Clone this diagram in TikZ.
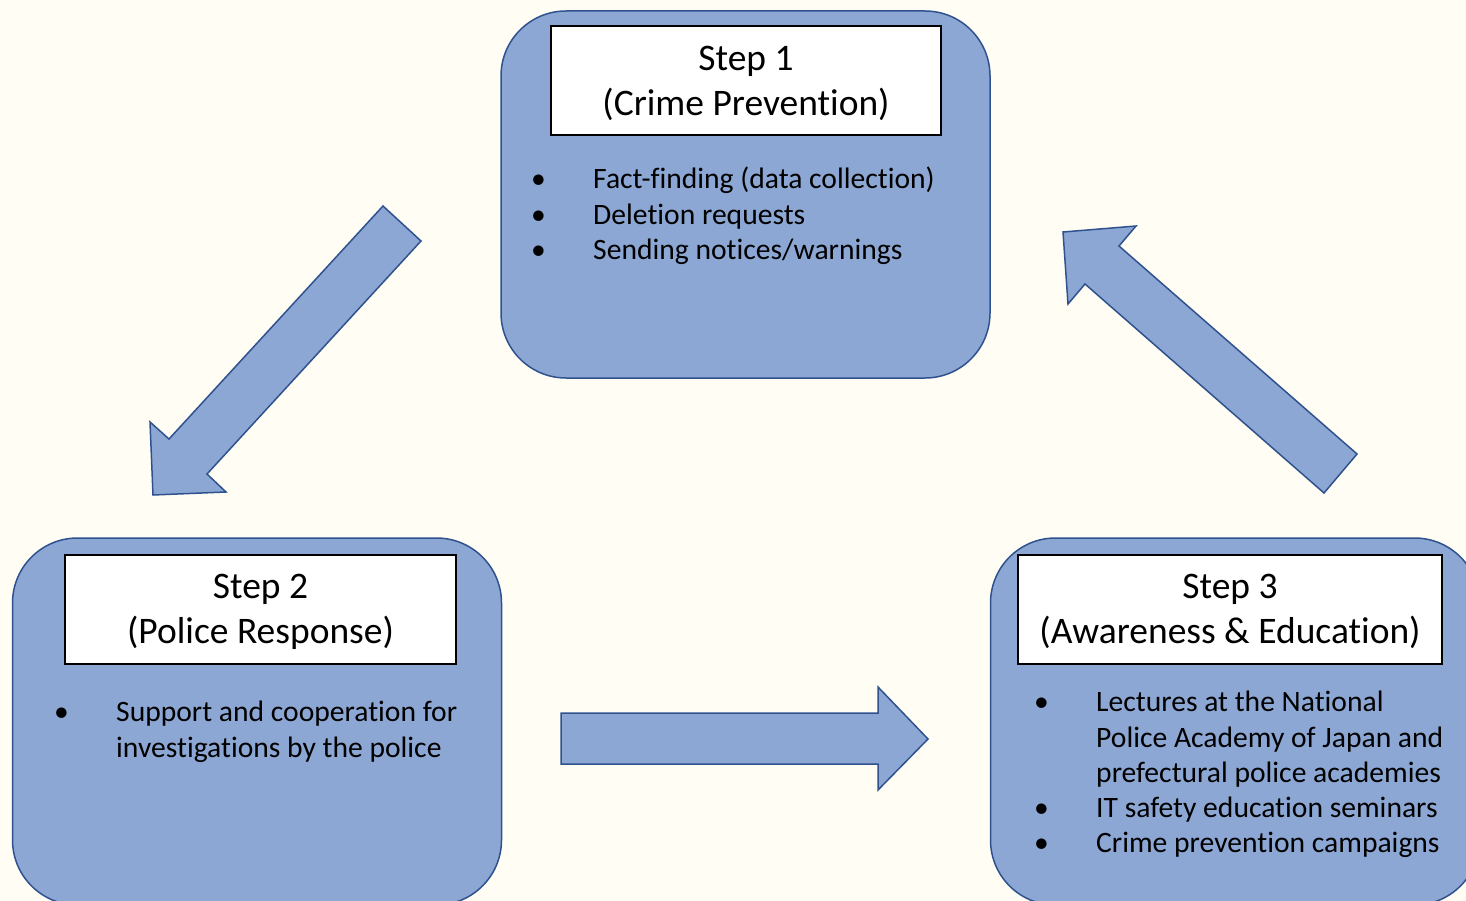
\documentclass[tikz,border=0pt]{standalone}
\usepackage{fontspec}
\setmainfont[Ligatures=NoCommon]{Carlito}
\usetikzlibrary{positioning}
\definecolor{bgcream}{HTML}{FFFDF4}
\definecolor{stepfill}{HTML}{8CA7D4}
\definecolor{stepline}{HTML}{2F528F}
\newcommand{\hstrut}{\rule{0pt}{30pt}}
\newcommand{\bul}{\makebox[62pt][l]{\textbullet}}
\tikzset{
  stepbox/.style={draw=stepline, line width=1.5pt, fill=stepfill, rounded corners=65pt,
    minimum width=489pt, minimum height=367pt, inner sep=0pt},
  titlebox/.style={draw=black, line width=2pt, fill=white, align=center, inner sep=0pt,
    minimum height=109pt, font=\fontsize{37.5}{45}\selectfont},
  itemlist/.style={anchor=north west, inner sep=0pt, align=left,
    font=\fontsize{29.6}{35.2}\selectfont},
  bigarrow/.style={draw=stepline, line width=1.5pt, fill=stepfill, line join=miter},
}
\begin{document}
\begin{tikzpicture}[x=1pt,y=-1pt]
\clip (0,0) rectangle (1466,901);
\fill[bgcream] (0,0) rectangle (1466,901);
%% step boxes
\node[stepbox] (step_1) at (745.5,194.5) {};
  \node[stepbox] (step_2) at (257,721.5) {};
  \node[stepbox] (step_3) at (1235,721.5) {};
  \node[titlebox, minimum width=390pt] (title_1) at (746,80.5) {\hstrut Step 1\\(Crime Prevention)};
  \node[titlebox, minimum width=391pt] (title_2) at (260.5,609.5) {\hstrut Step 2\\(Police Response)};
  \node[titlebox, minimum width=424pt] (title_3) at (1230,609) {\hstrut Step 3\\(Awareness \& Education)};
  \node[itemlist] (list_1) at (531,164) {\begin{tabular}{@{}l@{}l@{}}
    \bul & Fact-finding (data collection)\\
    \bul & Deletion requests\\
    \bul & Sending notices/warnings\\
  \end{tabular}};
  \node[itemlist] (list_2) at (54,697) {\begin{tabular}{@{}l@{}l@{}}
    \bul & Support and cooperation for\\
         & investigations by the police\\
  \end{tabular}};
  \node[itemlist] (list_3) at (1034,687) {\begin{tabular}{@{}l@{}l@{}}
    \bul & Lectures at the National\\
         & Police Academy of Japan and\\
         & prefectural police academies\\
    \bul & IT safety education seminars\\
    \bul & Crime prevention campaigns\\
  \end{tabular}};
%% block arrows
  \draw[bigarrow] (383,206) -- (421,241) -- (207,474) -- (226,492) -- (153,495) -- (150,422) -- (169,439) -- cycle;
  \draw[bigarrow] (561,713) -- (878,713) -- (878,687) -- (928,739) -- (878,790) -- (878,764) -- (561,764) -- cycle;
  \draw[bigarrow] (1324,493) -- (1357,454) -- (1119,246) -- (1136,226) -- (1063,232) -- (1068,304) -- (1085,284) -- cycle;
%
\end{tikzpicture}
\end{document}
